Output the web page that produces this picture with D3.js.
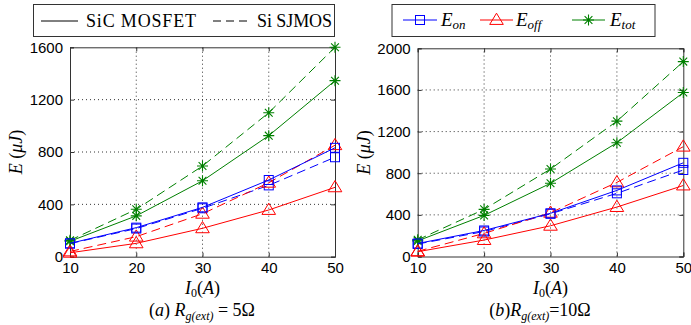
<!DOCTYPE html>
<html><head><meta charset="utf-8">
<script src="https://cdn.jsdelivr.net/npm/d3@7"></script>
<style>body{margin:0;background:#fff}svg{display:block}</style>
</head><body>
<svg id="c" width="691" height="325"></svg>
<script>
const currents = [10, 20, 30, 40, 50];
// (a) Rg(ext) = 5 Ohm
const eonSiC_a  = [102, 222, 377, 586, 832];
const eoffSiC_a = [30, 102, 217, 357, 530];
const etotSiC_a = [118, 312, 580, 925, 1345];
const eonSi_a   = [100, 215, 370, 545, 760];
const eoffSi_a  = [40, 153, 328, 565, 852];
const etotSi_a  = [125, 362, 693, 1100, 1600];
// (b) Rg(ext) = 10 Ohm
const eonSiC_b  = [125, 250, 415, 635, 900];
const eoffSiC_b = [46, 158, 295, 475, 682];
const etotSiC_b = [150, 395, 703, 1093, 1575];
const eonSi_b   = [120, 240, 410, 607, 831];
const eoffSi_b  = [50, 222, 420, 712, 1055];
const etotSi_b  = [160, 453, 840, 1300, 1872];
const yTicksA = [0, 400, 800, 1200, 1600];
const yTicksB = [0, 400, 800, 1200, 1600, 2000];
const xTicks = [10, 20, 30, 40, 50];

const svg = d3.select("#c");
const serif = "'Liberation Serif','DejaVu Serif',serif";
const sans = "'Liberation Sans',Arial,sans-serif";
const colors = {on: "#0000ff", off: "#ff0000", tot: "#008000"};

function marker(g, type, x, y, color) {
  if (type === "on") {
    g.append("rect").attr("x", x - 4.5).attr("y", y - 4.5).attr("width", 9).attr("height", 9)
      .attr("fill", "none").attr("stroke", color).attr("stroke-width", 1);
  } else if (type === "off") {
    const r = 6.8;
    g.append("path").attr("d", `M${x},${y - r}L${x + r},${y + r * 0.65}L${x - r},${y + r * 0.65}Z`)
      .attr("fill", "none").attr("stroke", color).attr("stroke-width", 1);
  } else {
    const r = 5.5, d = r * 0.7071;
    g.append("path").attr("d", `M${x - r},${y}L${x + r},${y}M${x},${y - r}L${x},${y + r}M${x - d},${y - d}L${x + d},${y + d}M${x - d},${y + d}L${x + d},${y - d}`)
      .attr("stroke", color).attr("stroke-width", 1.1);
  }
}

function panel(opt) {
  const x = d3.scaleLinear().domain([10, 50]).range([opt.x0, opt.x1]);
  const y = d3.scaleLinear().domain([0, opt.ymax]).range([opt.y0, opt.y1]);
  const g = svg.append("g");
  // grid
  g.selectAll(".gx").data(xTicks.slice(1, -1)).enter().append("line")
    .attr("x1", d => x(d)).attr("x2", d => x(d)).attr("y1", opt.y0).attr("y2", opt.y1)
    .attr("stroke", "#000").attr("stroke-width", 0.8).attr("stroke-dasharray", "1,3");
  g.selectAll(".gy").data(opt.yTicks.slice(1, -1)).enter().append("line")
    .attr("x1", opt.x0).attr("x2", opt.x1).attr("y1", d => y(d)).attr("y2", d => y(d))
    .attr("stroke", "#000").attr("stroke-width", 0.8).attr("stroke-dasharray", "1,3");
  // axes via d3
  g.append("g").attr("transform", `translate(0,${opt.y0})`)
    .call(d3.axisBottom(x).tickValues(xTicks).tickSize(-4).tickPadding(6).tickFormat(d3.format("d")));
  g.append("g").attr("transform", `translate(${opt.x0},0)`)
    .call(d3.axisLeft(y).tickValues(opt.yTicks).tickSize(-4).tickPadding(7).tickFormat(d3.format("d")));
  g.append("g").attr("transform", `translate(0,${opt.y1})`)
    .call(d3.axisTop(x).tickValues(xTicks).tickSize(-4).tickFormat(""));
  g.append("g").attr("transform", `translate(${opt.x1},0)`)
    .call(d3.axisRight(y).tickValues(opt.yTicks).tickSize(-4).tickFormat(""));
  g.selectAll(".domain").attr("stroke", "#333").attr("stroke-width", 1);
  g.selectAll(".tick line").attr("stroke", "#333");
  g.selectAll(".tick text").attr("font-family", sans).attr("font-size", 15).attr("fill", "#000");

  const line = d3.line().x((d, i) => x(currents[i])).y(d => y(d));
  const series = [
    {v: opt.etotSi, t: "tot", dash: "9,5"}, {v: opt.eonSi, t: "on", dash: "9,5"}, {v: opt.eoffSi, t: "off", dash: "9,5"},
    {v: opt.etotSiC, t: "tot"}, {v: opt.eonSiC, t: "on"}, {v: opt.eoffSiC, t: "off"}
  ];
  series.forEach(s => {
    g.append("path").attr("d", line(s.v)).attr("fill", "none").attr("stroke", colors[s.t])
      .attr("stroke-width", 1).attr("stroke-dasharray", s.dash || null);
    s.v.forEach((v, i) => marker(g, s.t, x(currents[i]), y(v), colors[s.t]));
  });

  // y label
  const yl = g.append("text").attr("transform", `translate(${opt.ylx},${(opt.y0 + opt.y1) / 2}) rotate(-90)`)
    .attr("text-anchor", "middle").attr("font-family", serif).attr("font-size", 18);
  yl.append("tspan").attr("font-style", "italic").text("E");
  yl.append("tspan").text(" (");
  yl.append("tspan").attr("font-style", "italic").text("μJ");
  yl.append("tspan").text(")");
  // x label
  const xl = g.append("text").attr("x", (opt.x0 + opt.x1) / 2).attr("y", 294)
    .attr("text-anchor", "middle").attr("font-family", serif).attr("font-size", 18);
  xl.append("tspan").attr("font-style", "italic").text("I");
  xl.append("tspan").attr("font-size", 12).attr("dy", 3).text("0");
  xl.append("tspan").attr("dy", -3).text("(");
  xl.append("tspan").attr("font-style", "italic").text("A");
  xl.append("tspan").text(")");
  // caption
  const cp = g.append("text").attr("x", opt.capx).attr("y", 316)
    .attr("text-anchor", "middle").attr("font-family", serif).attr("font-size", 18);
  cp.append("tspan").text("(");
  cp.append("tspan").attr("font-style", "italic").text(opt.letter);
  cp.append("tspan").text(")" + opt.gap);
  cp.append("tspan").attr("font-style", "italic").text("R");
  cp.append("tspan").attr("font-style", "italic").attr("font-size", 12).attr("dy", 4).text("g(ext)");
  cp.append("tspan").attr("dy", -4).text(opt.gap2 + "=" + opt.gap2 + opt.ohm + "Ω");
}

panel({x0: 70, x1: 335, y0: 256.7, y1: 47.3, ymax: 1600, yTicks: yTicksA, ylx: 22, capx: 202, letter: "a", gap: " ", gap2: " ", ohm: "5",
  eonSiC: eonSiC_a, eoffSiC: eoffSiC_a, etotSiC: etotSiC_a, eonSi: eonSi_a, eoffSi: eoffSi_a, etotSi: etotSi_a});
panel({x0: 417.7, x1: 683.3, y0: 256.5, y1: 48.3, ymax: 2000, yTicks: yTicksB, ylx: 370, capx: 540, letter: "b", gap: "", gap2: "", ohm: "10",
  eonSiC: eonSiC_b, eoffSiC: eoffSiC_b, etotSiC: etotSiC_b, eonSi: eonSi_b, eoffSi: eoffSi_b, etotSi: etotSi_b});

// Legend A
const la = svg.append("g");
la.append("rect").attr("x", 33.5).attr("y", 4.5).attr("width", 301).attr("height", 32)
  .attr("fill", "#fff").attr("stroke", "#333").attr("stroke-width", 1);
la.append("line").attr("x1", 41).attr("x2", 78).attr("y1", 21).attr("y2", 21).attr("stroke", "#000");
la.append("text").attr("x", 86).attr("y", 27).attr("font-family", serif).attr("font-size", 18).attr("textLength", 110).text("SiC MOSFET");
la.append("line").attr("x1", 213).attr("x2", 252).attr("y1", 21).attr("y2", 21).attr("stroke", "#000").attr("stroke-dasharray", "8,5");
la.append("text").attr("x", 257).attr("y", 27).attr("font-family", serif).attr("font-size", 18).attr("textLength", 75).text("Si SJMOS");

// Legend B
const lb = svg.append("g");
lb.append("rect").attr("x", 392).attr("y", 4.5).attr("width", 263).attr("height", 32)
  .attr("fill", "#fff").attr("stroke", "#333").attr("stroke-width", 1);
const legItems = [
  {t: "on", x1: 403, x2: 437, tx: 441, main: "E", sub: "on"},
  {t: "off", x1: 480, x2: 513, tx: 516, main: "E", sub: "off"},
  {t: "tot", x1: 572, x2: 605, tx: 610, main: "E", sub: "tot"}
];
legItems.forEach(it => {
  lb.append("line").attr("x1", it.x1).attr("x2", it.x2).attr("y1", 20).attr("y2", 20).attr("stroke", colors[it.t]);
  marker(lb, it.t, (it.x1 + it.x2) / 2, 20, colors[it.t]);
  const t = lb.append("text").attr("x", it.tx).attr("y", 26).attr("font-family", serif).attr("font-size", 19).attr("font-style", "italic");
  t.append("tspan").text(it.main);
  t.append("tspan").attr("font-size", 13).attr("dy", 3).text(it.sub);
});
</script>
</body></html>
